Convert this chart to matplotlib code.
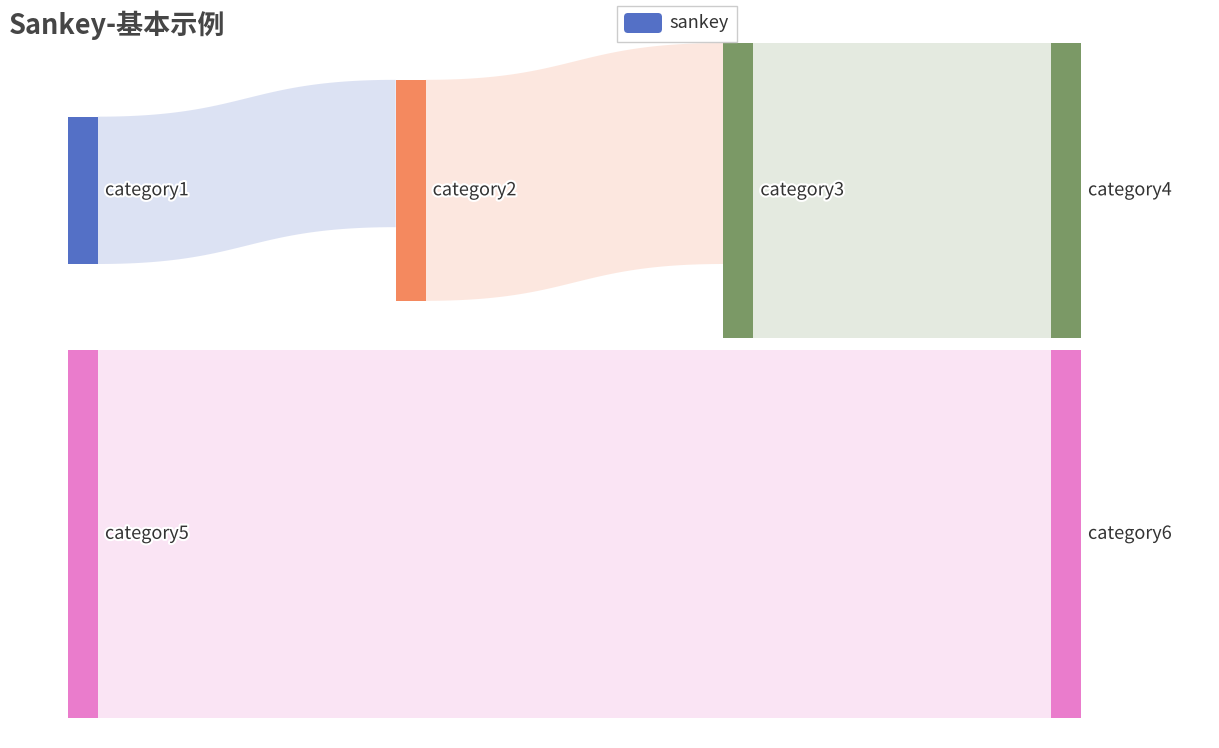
import numpy as np
import matplotlib
matplotlib.use("Agg")
import matplotlib.pyplot as plt
from matplotlib.patches import Rectangle, FancyBboxPatch, Polygon
import matplotlib.patheffects as pe

plt.rcParams['font.family'] = ['Noto Sans CJK SC', 'DejaVu Sans']

# ---- data ----
nodes = ["category1", "category2", "category3", "category4", "category5", "category6"]
node_colors = ["#5470c6", "#f4895f", "#7b9966", "#7b9966", "#ea7ccc", "#ea7ccc"]
link_source = ["category1", "category2", "category3", "category5"]
link_target = ["category2", "category3", "category4", "category6"]
link_value = [10, 15, 20, 25]
title = "Sankey-基本示例"
legend_label = "sankey"

# ---- layout params (pixels) ----
W, H = 1219, 748
left, right = 68, 1081
top, bottom = 43, 718
node_w = 30
gap = 12
link_alpha = 0.2

fig = plt.figure(figsize=(W / 100, H / 100), dpi=100)
ax = fig.add_axes([0, 0, 1, 1])
ax.set_xlim(0, W)
ax.set_ylim(H, 0)
ax.axis("off")

idx = {n: i for i, n in enumerate(nodes)}
n = len(nodes)
inv = np.zeros(n); outv = np.zeros(n)
for s, t, v in zip(link_source, link_target, link_value):
    outv[idx[s]] += v; inv[idx[t]] += v
val = np.maximum(inv, outv)

# depth
depth = [0] * n
changed = True
while changed:
    changed = False
    for s, t in zip(link_source, link_target):
        if depth[idx[t]] < depth[idx[s]] + 1:
            depth[idx[t]] = depth[idx[s]] + 1; changed = True
maxd = max(depth)
for i in range(n):
    if outv[i] == 0:
        depth[i] = maxd
colx = [left + d * (right - node_w - left) / maxd for d in range(maxd + 1)]

# vertical scale from the fullest column
cols = {d: [i for i in range(n) if depth[i] == d] for d in range(maxd + 1)}
scale = min(((bottom - top) - gap * (len(c) - 1)) / val[c].sum() for c in cols.values())

y0 = np.zeros(n)
# last column stacked from top
yy = top
for i in cols[maxd]:
    y0[i] = yy; yy += val[i] * scale + gap
# other columns: center on targets
for d in range(maxd - 1, -1, -1):
    for i in cols[d]:
        tg = [(idx[t], v) for s, t, v in zip(link_source, link_target, link_value) if idx[s] == i]
        c = sum((y0[j] + val[j] * scale / 2) * v for j, v in tg) / sum(v for _, v in tg)
        y0[i] = c - val[i] * scale / 2

# links
src_off = np.zeros(n); tgt_off = np.zeros(n)
for s, t, v in zip(link_source, link_target, link_value):
    i, j = idx[s], idx[t]
    h = v * scale
    xs = colx[depth[i]] + node_w
    xt = colx[depth[j]]
    ys = y0[i] + src_off[i]; yt = y0[j] + tgt_off[j]
    src_off[i] += h; tgt_off[j] += h
    tt = np.linspace(0, 1, 100)
    xm = (xs + xt) / 2
    bx = (1 - tt) ** 3 * xs + 3 * (1 - tt) ** 2 * tt * xm + 3 * (1 - tt) * tt ** 2 * xm + tt ** 3 * xt
    by = (1 - tt) ** 3 * ys + 3 * (1 - tt) ** 2 * tt * ys + 3 * (1 - tt) * tt ** 2 * yt + tt ** 3 * yt
    pts = np.vstack([np.column_stack([bx, by]), np.column_stack([bx[::-1], by[::-1] + h])])
    ax.add_patch(Polygon(pts, closed=True, facecolor=node_colors[i], alpha=link_alpha,
                         edgecolor="none", zorder=1))

# nodes and labels
for i in range(n):
    x = colx[depth[i]]
    ax.add_patch(Rectangle((x, y0[i]), node_w, val[i] * scale, facecolor=node_colors[i],
                           edgecolor="none", zorder=2))
    ax.text(x + node_w + 7, y0[i] + val[i] * scale / 2, nodes[i], fontsize=13, color="#333333",
            va="center", ha="left", zorder=3,
            path_effects=[pe.withStroke(linewidth=3, foreground="white")])

# title
ax.text(9, 25, title, fontsize=19.5, fontweight="bold", color="#464646", va="center", ha="left")

# legend
ax.add_patch(Rectangle((616.5, 5.5), 120, 36, facecolor="white", edgecolor="#cccccc", lw=1, zorder=4))
ax.add_patch(FancyBboxPatch((627, 16), 32, 14, boxstyle="round,pad=3,rounding_size=4",
                            facecolor=node_colors[0], edgecolor="none", zorder=5))
ax.text(669, 23, legend_label, fontsize=13, color="#333333", va="center", ha="left", zorder=5)

fig.savefig("out.png", dpi=100)
